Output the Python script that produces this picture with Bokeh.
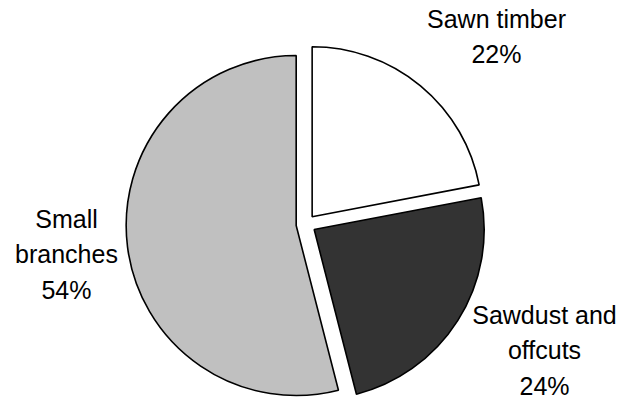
import math
from bokeh.plotting import figure
from bokeh.models import Range1d, ColumnDataSource
from bokeh.core.properties import value
from bokeh.embed import file_html
from bokeh.resources import INLINE

# ---- data ----
categories = ["Sawn timber", "Sawdust and offcuts", "Small branches"]
label_text = ["Sawn timber\n22%", "Sawdust and\noffcuts\n24%", "Small\nbranches\n54%"]
shares = [22, 24, 54]
colors = ["#ffffff", "#333333", "#c0c0c0"]

# ---- layout ----
W, H = 622, 400
cx, cy = 305.4, H - 223.8
R = 170
explode = 9.8
label_pos = [(496, H - 36), (544, H - 350), (66, H - 254)]

total = sum(shares)
starts, ends, xs, ys = [], [], [], []
a = math.pi / 2
for s in shares:
    sweep = 2 * math.pi * s / total
    end = a - sweep
    mid = (a + end) / 2
    starts.append(end)
    ends.append(a)
    xs.append(cx + explode * math.cos(mid))
    ys.append(cy + explode * math.sin(mid))
    a = end

src = ColumnDataSource(dict(x=xs, y=ys, start=starts, end=ends, color=colors, cat=categories))

p = figure(width=W, height=H, output_backend="svg", toolbar_location=None,
           x_range=Range1d(0, W), y_range=Range1d(0, H), min_border=0)
p.axis.visible = False
p.grid.visible = False
p.outline_line_color = None
p.background_fill_color = "white"
p.border_fill_color = "white"

p.wedge(x="x", y="y", radius=R, start_angle="start", end_angle="end", source=src,
        fill_color="color", line_color="black", line_width=1.6)

p.text(x=[q[0] for q in label_pos], y=[q[1] for q in label_pos], text=label_text,
       text_align="center", text_baseline="middle", text_font=value("Liberation Sans"),
       text_font_size="25px", text_color="black", text_line_height=1.28)

open("out.html", "w").write(file_html(p, INLINE))
